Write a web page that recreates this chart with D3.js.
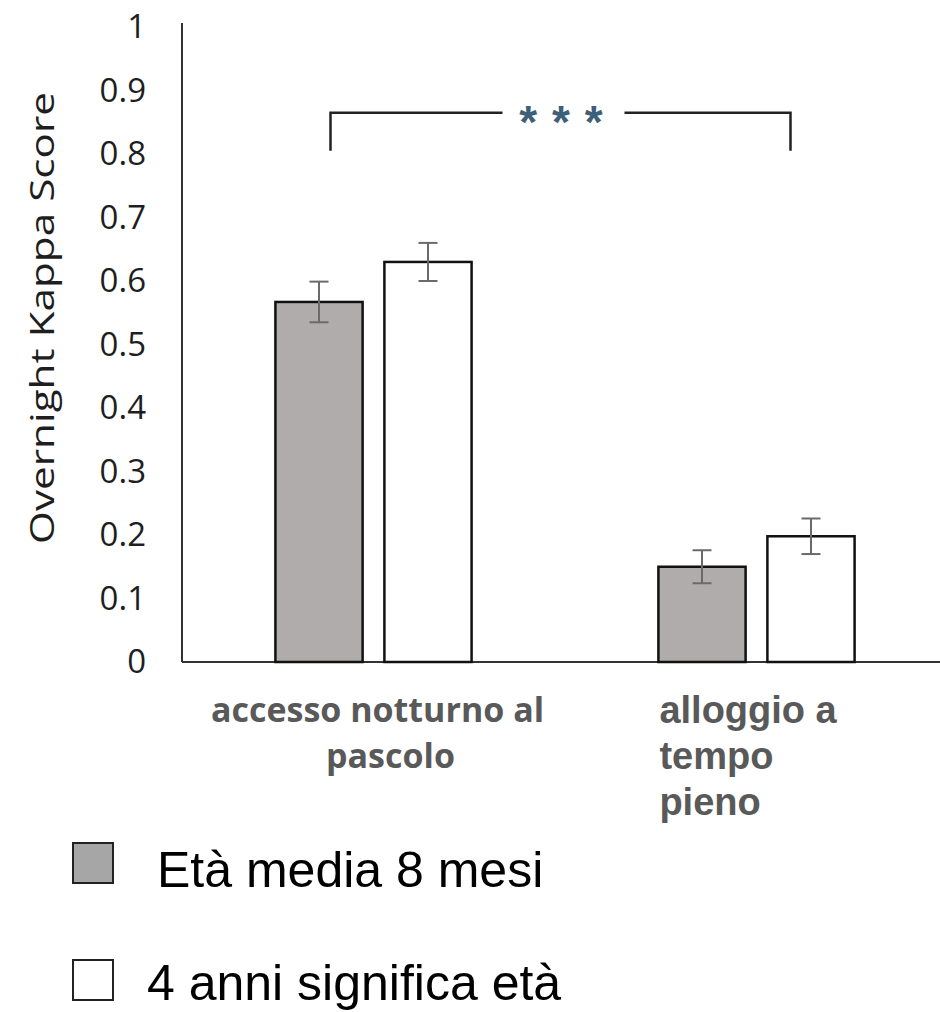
<!DOCTYPE html>
<html>
<head>
<meta charset="utf-8">
<script src="https://cdnjs.cloudflare.com/ajax/libs/d3/7.8.5/d3.min.js"></script>
<style>
  body { margin: 0; background: #fff; }
  svg { display: block; }
</style>
</head>
<body>
<svg id="chart" width="940" height="1012"></svg>
<script>
// data
var categories = ["accesso notturno al pascolo", "alloggio a tempo pieno"];
var categoryLines = [["accesso notturno al", "pascolo"], ["alloggio a", "tempo", "pieno"]];
var series = ["Età media 8 mesi", "4 anni significa età"];
var meanYoung = [0.567, 0.150];
var meanOld = [0.630, 0.198];
var errYoung = [0.032, 0.026];
var errOld = [0.030, 0.028];
var yTicks = [0, 0.1, 0.2, 0.3, 0.4, 0.5, 0.6, 0.7, 0.8, 0.9, 1];
var yTickLabels = ["0", "0.1", "0.2", "0.3", "0.4", "0.5", "0.6", "0.7", "0.8", "0.9", "1"];
var yTitle = "Overnight Kappa Score";
var significance = "* * *";

var fills = ["#b0acac", "#ffffff"];

var svg = d3.select('#chart');

var x0 = d3.scaleBand().domain(categories).range([182, 948]);
var x1 = d3.scaleBand().domain(series).range([0, x0.bandwidth()])
  .paddingInner(0.2).paddingOuter(0.857);
var y = d3.scaleLinear().domain([0, 1]).range([662, 27]);

// rows of data, one per bar
var rows = [];
categories.forEach(function(c, i) {
  rows.push({cat: c, s: series[0], v: meanYoung[i], e: errYoung[i], fill: fills[0]});
  rows.push({cat: c, s: series[1], v: meanOld[i], e: errOld[i], fill: fills[1]});
});

// y axis
var yAxis = d3.axisLeft(y)
  .tickValues(yTicks)
  .tickFormat(function(d, i) { return yTickLabels[i]; })
  .tickSize(0)
  .tickPadding(36);
var gy = svg.append('g').attr('transform', 'translate(182,0)').call(yAxis);
gy.select('.domain').attr('stroke', '#333').attr('stroke-width', 2);
gy.selectAll('text')
  .attr('font-family', '"Open Sans", sans-serif')
  .attr('font-size', 33)
  .attr('fill', '#1e1e1e');
gy.select('.domain').attr('d', 'M0,' + (y(1) - 4) + 'V' + y(0));

// x axis line
svg.append('line')
  .attr('x1', 182).attr('x2', 940)
  .attr('y1', y(0)).attr('y2', y(0))
  .attr('stroke', '#333').attr('stroke-width', 2);

// y title
svg.append('text')
  .attr('transform', 'translate(54,' + 318 + ') rotate(-90)')
  .attr('text-anchor', 'middle')
  .attr('font-family', '"Open Sans", sans-serif')
  .attr('font-size', 32)
  .attr('fill', '#1e1e1e')
  .attr('textLength', 452)
  .attr('lengthAdjust', 'spacingAndGlyphs')
  .text(yTitle);

// bars
svg.append('g').selectAll('rect')
  .data(rows)
  .join('rect')
  .attr('x', function(d) { return x0(d.cat) + x1(d.s); })
  .attr('y', function(d) { return y(d.v); })
  .attr('width', x1.bandwidth())
  .attr('height', function(d) { return y(0) - y(d.v); })
  .attr('fill', function(d) { return d.fill; })
  .attr('stroke', '#111')
  .attr('stroke-width', 2.5);

// error bars
var eb = svg.append('g').selectAll('g')
  .data(rows)
  .join('g')
  .attr('stroke', '#6a6a6a')
  .attr('stroke-width', 2);
eb.append('line')
  .attr('x1', function(d) { return x0(d.cat) + x1(d.s) + x1.bandwidth() / 2; })
  .attr('x2', function(d) { return x0(d.cat) + x1(d.s) + x1.bandwidth() / 2; })
  .attr('y1', function(d) { return y(d.v + d.e); })
  .attr('y2', function(d) { return y(d.v - d.e); });
[1, -1].forEach(function(sign) {
  eb.append('line')
    .attr('x1', function(d) { return x0(d.cat) + x1(d.s) + x1.bandwidth() / 2 - 9.5; })
    .attr('x2', function(d) { return x0(d.cat) + x1(d.s) + x1.bandwidth() / 2 + 9.5; })
    .attr('y1', function(d) { return y(d.v + sign * d.e); })
    .attr('y2', function(d) { return y(d.v + sign * d.e); });
});

// x category labels
var lab0 = svg.append('text')
  .attr('font-family', '"Open Sans", sans-serif')
  .attr('font-weight', 'bold')
  .attr('font-size', 34)
  .attr('fill', '#595959')
  .attr('text-anchor', 'middle');
categoryLines[0].forEach(function(line, i) {
  lab0.append('tspan')
    .attr('x', x0(categories[0]) + x0.bandwidth() / 2 + (i === 0 ? 4 : 17))
    .attr('y', 722 + i * 46)
    .text(line);
});
var lab1 = svg.append('text')
  .attr('font-family', '"Liberation Sans", Arial, sans-serif')
  .attr('font-weight', 'bold')
  .attr('font-size', 38)
  .attr('fill', '#595959');
categoryLines[1].forEach(function(line, i) {
  lab1.append('tspan')
    .attr('x', x0(categories[1]) + x1(series[0]) + 1)
    .attr('y', 723 + i * 46)
    .text(line);
});

// significance bracket
var bL = x0(categories[0]) + x0.bandwidth() / 2 - 43;
var bR = x0(categories[1]) + x0.bandwidth() / 2 + 34;
var bY = y(0.865), bDrop = y(0.805);
var bMid = (bL + bR) / 2;
var bracket = svg.append('g').attr('stroke', '#222').attr('stroke-width', 2.5).attr('fill', 'none');
bracket.append('path').attr('d', 'M' + bL + ',' + bDrop + 'V' + bY + 'H' + (bMid - 58));
bracket.append('path').attr('d', 'M' + (bMid + 64) + ',' + bY + 'H' + bR + 'V' + bDrop);
svg.append('text')
  .attr('x', bMid + 1)
  .attr('y', bY + 25)
  .attr('text-anchor', 'middle')
  .attr('font-family', '"Liberation Sans", Arial, sans-serif')
  .attr('font-weight', 'bold')
  .attr('font-size', 46)
  .attr('letter-spacing', 1)
  .attr('fill', '#3d5f78')
  .text(significance);

// legend
var legend = svg.append('g').selectAll('g')
  .data(series)
  .join('g')
  .attr('transform', function(d, i) { return 'translate(73,' + (843 + i * 117) + ')'; });
legend.append('rect')
  .attr('width', 40).attr('height', 40)
  .attr('fill', function(d, i) { return i === 0 ? '#a6a6a6' : '#fff'; })
  .attr('stroke', '#222').attr('stroke-width', 2);
legend.append('text')
  .attr('x', function(d, i) { return i === 0 ? 84 : 74; })
  .attr('y', function(d, i) { return i === 0 ? 44 : 40; })
  .attr('font-family', '"Liberation Sans", Arial, sans-serif')
  .attr('font-size', 50)
  .attr('fill', '#000')
  .text(function(d) { return d; });
</script>
</body>
</html>
